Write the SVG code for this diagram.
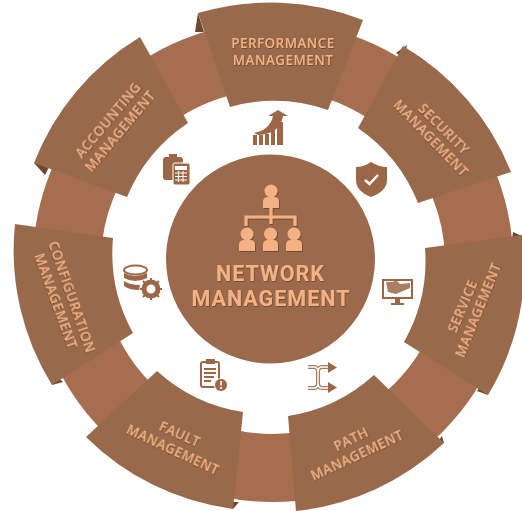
<svg xmlns="http://www.w3.org/2000/svg" width="522" height="511" viewBox="0 0 522 511">
<defs>
<filter id="soft" x="-10%" y="-10%" width="120%" height="120%"><feDropShadow dx="0.7" dy="0.9" stdDeviation="0.5" flood-color="#4a2a16" flood-opacity="0.55"/></filter>
</defs>
<style>
.seg{fill:#99694c}
.ring{fill:none;stroke:#a66e4f;stroke-width:68}
.nook{fill:#6f4630}
.lbl{font-family:"Open Sans","Liberation Sans",sans-serif;font-weight:600;font-size:13.4px;letter-spacing:.5px;fill:#f4b183;text-anchor:middle;dominant-baseline:central;filter:url(#soft)}
.ttl{font-family:Roboto,"Liberation Sans",sans-serif;font-weight:700;font-size:21.5px;letter-spacing:1px;fill:#f4b183;text-anchor:middle;filter:url(#soft)}
.ic{fill:#9c6747}
.icl{fill:none;stroke:#9c6747;stroke-width:2}
.lt{fill:#f4b183}
.ltl{fill:none;stroke:#f4b183;stroke-width:3.2}
.w{fill:#fff}
.wl{fill:none;stroke:#fff;stroke-width:1}
</style>
<rect width="522" height="511" fill="#fff"/>
<g id="connectors">
<circle class="ring" cx="273" cy="262" r="206"/>
<path class="nook" d="M198 13L195 32L204 32ZM34 163L45 175L50 165ZM407 45L396 53L404 58ZM52 385L63 382L56 376ZM444 443L442 436L436 444ZM233 509L239 502L230 502ZM488 395L477 391L482 384ZM522 236L513 232L512 240Z"/>
</g>
<g id="performance">
<path class="seg" d="M198 13A255 255 0 0 1 363 20L328 110A165 165 0 0 0 230 107Z"/>
<text class="lbl" x="283" y="43">PERFORMANCE</text><text class="lbl" x="283" y="60">MANAGEMENT</text>
</g>
<g id="security">
<path class="seg" d="M403 46A255 255 0 0 1 511 172L418 203A165 165 0 0 0 358 128Z"/>
<text class="lbl" transform="translate(444 129) rotate(45)">SECURITY</text><text class="lbl" transform="translate(431 138) rotate(46)">MANAGEMENT</text>
</g>
<g id="service">
<path class="seg" d="M425 248L522 235L522 300A255 255 0 0 1 488 395L404 342A165 165 0 0 0 425 248Z"/>
<text class="lbl" transform="translate(462.500 306) rotate(-67)">SERVICE</text><text class="lbl" transform="translate(478 310) rotate(-68)">MANAGEMENT</text>
</g>
<g id="path">
<path class="seg" d="M374 375L444 443A255 255 0 0 1 296 511L288 416A165 165 0 0 0 374 375Z"/>
<text class="lbl" transform="translate(351 439) rotate(-26)">PATH</text><text class="lbl" transform="translate(357 455) rotate(-25)">MANAGEMENT</text>
</g>
<g id="fault">
<path class="seg" d="M157 371A165 165 0 0 0 243 412L233 509A255 255 0 0 1 86 437Z"/>
<text class="lbl" transform="translate(180 434) rotate(24)">FAULT</text><text class="lbl" transform="translate(173 449.500) rotate(25)">MANAGEMENT</text>
</g>
<g id="configuration">
<path class="seg" d="M15 224L113 238A165 165 0 0 0 133 333L52 385A255 255 0 0 1 15 224Z"/>
<text class="lbl" transform="translate(72 297) rotate(71)">CONFIGURATION</text><text class="lbl" transform="translate(56 301) rotate(70)">MANAGEMENT</text>
</g>
<g id="accounting">
<path class="seg" d="M140 37L188 123A165 165 0 0 0 127 197L34 163A255 255 0 0 1 140 37Z"/>
<text class="lbl" transform="translate(108 120) rotate(-50)">ACCOUNTING</text><text class="lbl" transform="translate(120 131) rotate(-50)">MANAGEMENT</text>
</g>
<g id="center">
<circle cx="270.500" cy="259" r="104.500" fill="#9b6a4c"/>
<g filter="url(#soft)">
<circle class="lt" cx="271" cy="191" r="6.500"/><path class="lt" d="M263 208V202Q263 197 268 197H274Q279 197 279 202V208Z"/>
<path class="ltl" d="M271 208V224M246 226V217H295V226"/>
<circle class="lt" cx="247" cy="234" r="6.500"/><path class="lt" d="M239 251V245Q239 240 244 240H250Q255 240 255 245V251Z"/>
<circle class="lt" cx="270.500" cy="234" r="6.500"/><path class="lt" d="M263 251V245Q263 240 268 240H273Q278 240 278 245V251Z"/>
<circle class="lt" cx="294" cy="234" r="6.500"/><path class="lt" d="M286 251V245Q286 240 291 240H297Q302 240 302 245V251Z"/>
</g>
<text class="ttl" x="270.500" y="280.500">NETWORK</text><text class="ttl" x="271" y="306">MANAGEMENT</text>
</g>
<g id="icon-trend">
<path class="ic" d="M253 135H257V145H253ZM259 135H263V145H259ZM265 134H269V145H265ZM271 130H275V145H271ZM277 122H283V145H277Z"/>
<path class="ic" d="M254 133Q270 130 273 116H268L278 110L288 116H283Q280 134 258 135Z"/>
</g>
<g id="icon-shield">
<path class="ic" d="M371 162Q379 167 387 167V180Q387 191 371 197Q356 191 356 180V167Q364 167 371 162Z"/>
<path d="M365 180L369.500 184L378 175" fill="none" stroke="#fff" stroke-width="2.500"/>
</g>
<g id="icon-calculator">
<rect class="ic" x="163" y="157" width="20" height="23" rx="3"/>
<rect class="ic" x="169" y="154" width="8" height="4"/>
<rect x="173" y="163" width="17" height="22" rx="2" class="ic" stroke="#fff" stroke-width="1"/>
<rect class="w" x="175" y="166" width="12" height="4"/>
<path class="wl" d="M175 173H187M175 176.500H187M175 180H187M178.500 171V182M183 171V182"/>
</g>
<g id="icon-database">
<ellipse class="icl" cx="135.500" cy="270" rx="11.500" ry="4.500"/>
<path class="ic" d="M124 273Q135 279 147 273V278Q135 284 124 278Z"/>
<path class="ic" d="M124 281Q130 285 140 285L139 290Q129 290 124 286Z"/>
<circle cx="151" cy="289" r="7" fill="none" stroke="#9c6747" stroke-width="5"/>
<path class="icl" stroke-width="3" d="M151 278V282M151 296V300M140 289H144M158 289H162M143 281L146 284M156 294L159 297M159 281L156 284M146 294L143 297"/>
</g>
<g id="icon-monitor">
<path class="icl" d="M383 280H412V298H383Z" stroke-width="2.400"/>
<path class="ic" d="M386 282H393L396 280L400 284L410 283V288L396 294L388 292Z" opacity=".85"/>
<path class="ic" d="M395 298H400V303H404V305H391V303H395Z"/>
</g>
<g id="icon-clipboard">
<rect x="201" y="362" width="18" height="25" rx="2" fill="none" stroke="#9c6747" stroke-width="2"/>
<rect class="ic" x="206" y="359" width="9" height="5"/>
<path class="icl" stroke-width="1.500" d="M204 369H216M204 373H216M204 377H214M204 381H211"/>
<circle cx="221" cy="385" r="6.500" class="ic" stroke="#fff" stroke-width="1"/>
<path d="M221 381V385.500M221 387V389" stroke="#fff" stroke-width="1.600" fill="none"/>
</g>
<g id="icon-shuffle">
<path d="M308 367H314Q318 367 318 372V383Q318 388 322 388H330M308 388H314Q318 388 318 383V372Q318 367 322 367H330" fill="none" stroke="#a97a5e" stroke-width="4"/>
<path d="M308 367H314Q318 367 318 372V383Q318 388 322 388H330M308 388H314Q318 388 318 383V372Q318 367 322 367H330" fill="none" stroke="#fff" stroke-width="1.500"/>
<path class="ic" d="M328 362L337 367.500L328 373ZM328 382L337 387.500L328 393Z"/>
</g>
</svg>
